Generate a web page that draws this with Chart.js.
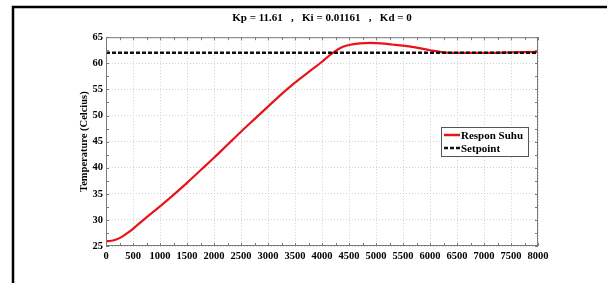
<!DOCTYPE html>
<html>
<head>
<meta charset="utf-8">
<script src="https://cdn.jsdelivr.net/npm/chart.js@4.4.0/dist/chart.umd.min.js"></script>
<style>
  html, body { margin: 0; padding: 0; background: #fff; }
  #wrap { width: 607px; height: 283px; }
</style>
</head>
<body>
<div id="wrap"><canvas id="pidChart" width="607" height="283"></canvas></div>
<script>
const times = [0, 100, 200, 300, 400, 500, 750, 1000, 1250, 1500, 1750, 2000, 2250, 2500, 2750,
    3000, 3250, 3500, 3750, 4000, 4100, 4200, 4300, 4400, 4500, 4700, 4900, 5100, 5300, 5500,
    5750, 6000, 6250, 6500, 7000, 7500, 8000];
const temps = [25.9, 26.0, 26.3, 26.8, 27.5, 28.3, 30.5, 32.6, 34.8, 37.1, 39.5, 41.9, 44.4, 46.9, 49.3,
    51.7, 54.1, 56.3, 58.3, 60.3, 61.2, 62.0, 62.7, 63.2, 63.5, 63.8, 63.9, 63.8, 63.6, 63.4,
    63.0, 62.5, 62.1, 62.0, 62.0, 62.1, 62.2];
const setpointTimes = [0, 8000];
const setpointValues = [62, 62];

const xTicks = [0, 500, 1000, 1500, 2000, 2500, 3000, 3500, 4000, 4500, 5000, 5500, 6000, 6500, 7000, 7500, 8000];
const yTicks = [25, 30, 35, 40, 45, 50, 55, 60, 65];

const serif = "'Liberation Serif', 'Times New Roman', serif";

// outer frame + plot box + small inward ticks (matlab style) + legend
const decor = {
    id: 'decor',
    beforeDraw(chart) {
        const c = chart.ctx;
        c.save();
        c.strokeStyle = '#000';
        c.lineWidth = 2.5;
        c.beginPath();
        c.moveTo(13, 283);
        c.lineTo(13, 7);
        c.lineTo(607, 7);
        c.stroke();
        c.restore();
    },
    afterDraw(chart) {
        const c = chart.ctx;
        const a = chart.chartArea;
        const xs = chart.scales.x, ys = chart.scales.y;
        c.save();
        c.strokeStyle = '#7a7a7a';
        c.lineWidth = 1;
        c.strokeRect(a.left + 0.5, a.top + 0.5, a.right - a.left - 1, a.bottom - a.top - 1);
        c.beginPath();
        for (let v = 0; v <= 8000; v += 250) {
            const px = Math.round(xs.getPixelForValue(v)) + 0.5;
            c.moveTo(px, a.bottom); c.lineTo(px, a.bottom - 3);
            c.moveTo(px, a.top); c.lineTo(px, a.top + 3);
        }
        for (let v = 25; v <= 65; v += 2.5) {
            const py = Math.round(ys.getPixelForValue(v)) + 0.5;
            c.moveTo(a.left, py); c.lineTo(a.left + 3, py);
            c.moveTo(a.right, py); c.lineTo(a.right - 3, py);
        }
        c.stroke();

        // legend box
        const bx = 441, by = 127, bw = 87, bh = 29;
        c.fillStyle = '#fff';
        c.fillRect(bx, by, bw, bh);
        c.strokeStyle = '#555';
        c.strokeRect(bx + 0.5, by + 0.5, bw, bh);
        c.font = 'bold 11px ' + serif;
        c.textBaseline = 'middle';
        c.fillStyle = '#000';
        const ds = chart.data.datasets;
        const rows = [by + 8, by + 21];
        [1, 0].forEach((i, r) => {
            const d = ds[i];
            c.beginPath();
            c.strokeStyle = d.borderColor;
            c.lineWidth = 2.5;
            c.setLineDash(d.borderDash || []);
            c.moveTo(bx + 3, rows[r]);
            c.lineTo(bx + 19, rows[r]);
            c.stroke();
            c.setLineDash([]);
            c.fillText(d.label, bx + 20, rows[r] + 1);
        });
        c.restore();
    }
};

const ctx = document.getElementById('pidChart').getContext('2d');
new Chart(ctx, {
    type: 'line',
    data: {
        datasets: [{
            label: 'Setpoint',
            data: setpointTimes.map((t, i) => ({ x: t, y: setpointValues[i] })),
            borderColor: '#111',
            borderWidth: 2.5,
            borderDash: [4, 2],
            pointRadius: 0,
            order: 0
        }, {
            label: 'Respon Suhu',
            data: times.map((t, i) => ({ x: t, y: temps[i] })),
            borderColor: '#e8141b',
            borderWidth: 2.2,
            cubicInterpolationMode: 'monotone',
            pointRadius: 0,
            order: 1
        }]
    },
    options: {
        responsive: false,
        animation: false,
        layout: {
            padding: { left: 78, right: 69, top: 0, bottom: 0 }
        },
        plugins: {
            legend: { display: false },
            tooltip: { enabled: false },
            title: {
                display: true,
                fullSize: false,
                text: 'Kp = 11.61   ,   Ki = 0.01161   ,   Kd = 0',
                color: '#000',
                font: { family: serif, size: 11, weight: 'bold' },
                padding: { top: 12, bottom: 12 }
            }
        },
        scales: {
            x: {
                type: 'linear',
                min: 0,
                max: 8000,
                afterFit(scale) { scale.height = 37; },
                afterBuildTicks(scale) { scale.ticks = xTicks.map(v => ({ value: v })); },
                grid: { color: '#cfcfcf', drawTicks: false },
                border: { display: false, dash: [1, 2] },
                ticks: {
                    color: '#000',
                    padding: 4,
                    maxRotation: 0,
                    autoSkip: false,
                    callback: v => String(v),
                    font: { family: serif, size: 10.5, weight: 'bold' }
                }
            },
            y: {
                type: 'linear',
                min: 25,
                max: 65,
                afterFit(scale) { scale.width = 28; },
                afterBuildTicks(scale) { scale.ticks = yTicks.map(v => ({ value: v })); },
                grid: { color: '#cfcfcf', drawTicks: false },
                border: { display: false, dash: [1, 2] },
                title: {
                    display: true,
                    text: 'Temperature (Celcius)',
                    color: '#000',
                    padding: { top: 0, bottom: 0 },
                    font: { family: serif, size: 10.5, weight: 'bold' }
                },
                ticks: {
                    color: '#000',
                    padding: 3,
                    callback: v => String(v),
                    font: { family: serif, size: 10.5, weight: 'bold' }
                }
            }
        }
    },
    plugins: [decor]
});
</script>
</body>
</html>
